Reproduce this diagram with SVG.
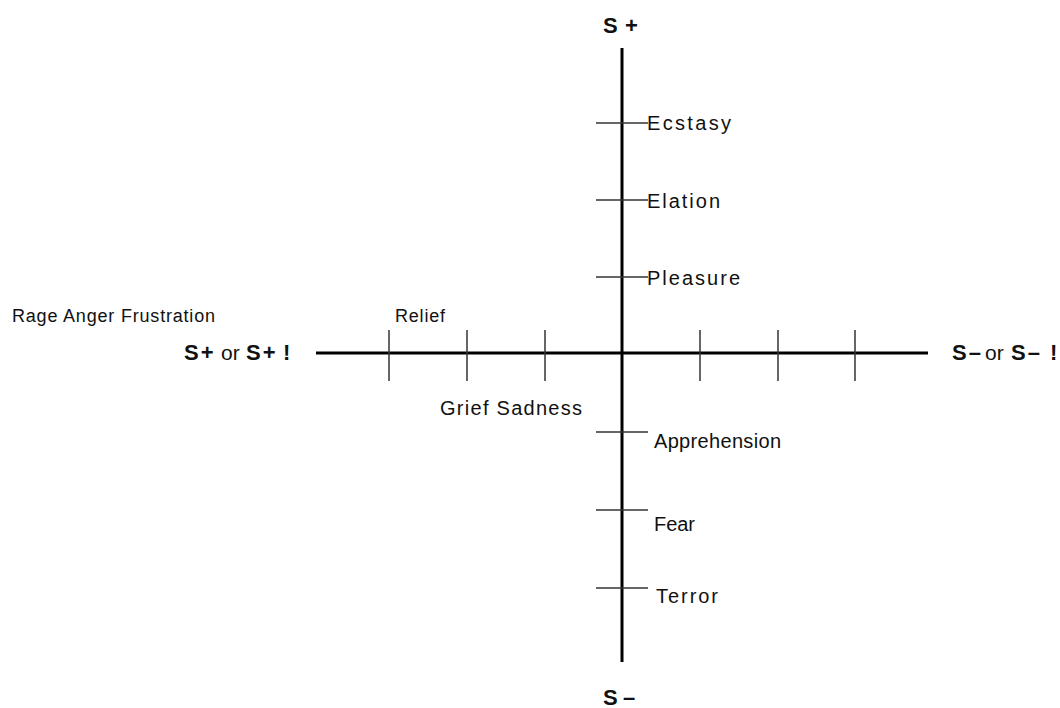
<svg xmlns="http://www.w3.org/2000/svg" width="1060" height="708" viewBox="0 0 1060 708">
<style>
.axis{stroke:#000;stroke-width:3;fill:none}
.tick{stroke:#333;stroke-width:1.5;fill:none}
text{font-family:"Liberation Sans",Arial,sans-serif;fill:#111}
.lab{font-size:20px}
.sm{font-size:18px}
.b{font-weight:bold;font-size:22px}
.s{font-weight:bold;font-size:22px;letter-spacing:2px}
.o{font-size:21px}
</style>
<rect width="1060" height="708" fill="#fff"/>
<g id="connectors">
<line class="axis" x1="622" y1="48" x2="622" y2="662"/>
<line class="axis" x1="316" y1="353" x2="928" y2="353"/>
<line class="tick" x1="596" y1="123" x2="648" y2="123"/>
<line class="tick" x1="596" y1="200" x2="648" y2="200"/>
<line class="tick" x1="596" y1="277" x2="648" y2="277"/>
<line class="tick" x1="596" y1="432" x2="648" y2="432"/>
<line class="tick" x1="596" y1="510" x2="648" y2="510"/>
<line class="tick" x1="596" y1="588" x2="648" y2="588"/>
<line class="tick" x1="389" y1="330" x2="389" y2="381"/>
<line class="tick" x1="467" y1="330" x2="467" y2="381"/>
<line class="tick" x1="545" y1="330" x2="545" y2="381"/>
<line class="tick" x1="700" y1="330" x2="700" y2="381"/>
<line class="tick" x1="778" y1="330" x2="778" y2="381"/>
<line class="tick" x1="855" y1="330" x2="855" y2="381"/>
</g>
<g id="top"><text class="b" x="603" y="33">S<tspan x="625">+</tspan></text></g>
<g id="bottom"><text class="b" x="603" y="705">S<tspan x="623">–</tspan></text></g>
<g id="left">
<text class="s" x="184" y="360">S+</text>
<text class="o" x="221" y="360">or</text>
<text class="s" x="246" y="360">S+<tspan x="283">!</tspan></text>
</g>
<g id="right">
<text class="s" x="952" y="360">S–</text>
<text class="o" x="985" y="360">or</text>
<text class="s" x="1011" y="360">S–<tspan x="1050">!</tspan></text>
</g>
<g id="ecstasy"><text class="lab" x="647" y="130" textLength="84" lengthAdjust="spacing">Ecstasy</text></g>
<g id="elation"><text class="lab" x="647" y="208" textLength="73" lengthAdjust="spacing">Elation</text></g>
<g id="pleasure"><text class="lab" x="647" y="285" textLength="93" lengthAdjust="spacing">Pleasure</text></g>
<g id="rage"><text class="sm" x="12" y="322" textLength="203" lengthAdjust="spacing">Rage Anger Frustration</text></g>
<g id="relief"><text class="sm" x="395" y="322" textLength="50" lengthAdjust="spacing">Relief</text></g>
<g id="grief"><text class="lab" x="440" y="415" textLength="142" lengthAdjust="spacing">Grief Sadness</text></g>
<g id="apprehension"><text class="lab" x="654" y="448" textLength="127" lengthAdjust="spacing">Apprehension</text></g>
<g id="fear"><text class="lab" x="654" y="531" textLength="41" lengthAdjust="spacing">Fear</text></g>
<g id="terror"><text class="lab" x="656" y="603" textLength="62" lengthAdjust="spacing">Terror</text></g>
</svg>
